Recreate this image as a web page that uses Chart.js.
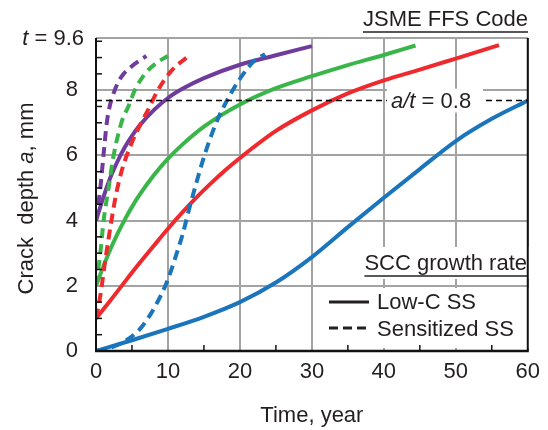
<!DOCTYPE html>
<html>
<head>
<meta charset="utf-8">
<script src="https://cdn.jsdelivr.net/npm/chart.js@4.4.1/dist/chart.umd.min.js"></script>
<style>
  html, body { margin: 0; padding: 0; background: #fff; }
  #wrap { width: 548px; height: 430px; }
</style>
</head>
<body>
<div id="wrap"><canvas id="myChart" width="548" height="430"></canvas></div>
<script>
// time (year) / crack depth (mm)
var blueSolidT = [0, 5, 10, 15, 20, 25, 30, 35, 40, 45, 50, 55, 60];
var blueSolidA = [0, 0.33, 0.68, 1.05, 1.5, 2.1, 2.88, 3.8, 4.7, 5.58, 6.44, 7.12, 7.68];
var blueDashT = [0, 2, 4, 6, 7.5, 9, 10, 11, 12, 13, 14, 15, 16, 17, 18, 19, 20, 21, 22, 23.5];
var blueDashA = [0, 0.1, 0.3, 0.65, 1.1, 1.7, 2.2, 2.85, 3.55, 4.4, 5.2, 5.95, 6.6, 7.15, 7.6, 8.0, 8.35, 8.65, 8.9, 9.1];

var redSolidT = [0, 2, 4, 6, 8, 10, 12, 14, 16, 18, 20, 25, 30, 35, 40, 45, 50, 56];
var redSolidA = [1.0, 1.55, 2.12, 2.68, 3.22, 3.75, 4.25, 4.72, 5.15, 5.55, 5.92, 6.75, 7.38, 7.9, 8.3, 8.63, 8.97, 9.38];
var redDashT = [0, 0.6, 1.3, 2.0, 2.7, 3.6, 5.0, 6.4, 7.2, 8.6, 10.5, 13.2];
var redDashA = [1.0, 1.7, 2.8, 3.8, 4.7, 5.55, 6.4, 7.05, 7.38, 8.0, 8.6, 9.1];

var greenSolidT = [0, 1, 2, 3, 4, 5, 6, 8, 10, 12, 15, 20, 25, 30, 35, 40, 44.4];
var greenSolidA = [2.0, 2.58, 3.12, 3.6, 4.03, 4.42, 4.77, 5.38, 5.9, 6.33, 6.88, 7.56, 8.06, 8.43, 8.77, 9.08, 9.37];
var greenDashT = [0, 0.6, 1.06, 1.75, 2.45, 3.6, 4.5, 5.4, 6.8, 8.5, 10];
var greenDashA = [2.0, 3.0, 4.0, 5.0, 6.0, 7.05, 7.5, 8.0, 8.5, 8.85, 9.05];

var purpleSolidT = [0, 1, 2, 3, 4, 5, 6, 8, 10, 12, 15, 20, 25, 30];
var purpleSolidA = [4.0, 4.7, 5.32, 5.82, 6.25, 6.6, 6.9, 7.38, 7.76, 8.04, 8.37, 8.78, 9.07, 9.35];
var purpleDashT = [0, 0.6, 1.06, 1.5, 1.9, 2.6, 3.5, 4.9, 7];
var purpleDashA = [4.0, 5.0, 6.05, 7.0, 7.5, 8.0, 8.4, 8.72, 9.05];

var limitT = [0, 60];
var limitA = [7.68, 7.68];   // a/t = 0.8, t = 9.6

var xTickValues = [0, 10, 20, 30, 40, 50, 60];
var yTickValues = [0, 2, 4, 6, 8, 9.6];
var xMinorTicks = [5, 15, 25, 35, 45, 55];
var yMinorTicks = [0.5, 1, 1.5, 2.5, 3, 3.5, 4.5, 5, 5.5, 6.5, 7, 7.5, 8.5, 9, 9.5];

var BLUE = '#1a75bc', RED = '#ee2a2f', GREEN = '#3ab54a', PURPLE = '#6f3c9e';
var TXT = '#231f20';
var FONT = '"Liberation Sans", Arial, sans-serif';

function pts(t, a) {
    return t.map(function (v, i) { return {x: v, y: a[i]}; });
}

function curve(t, a, color, dashed) {
    return {
        data: pts(t, a),
        borderColor: color,
        borderWidth: 4,
        borderDash: dashed ? [10, 6] : [],
        pointRadius: 0,
        cubicInterpolationMode: 'monotone',
        fill: false,
        order: 1
    };
}

var datasets = [
    {
        data: pts(limitT, limitA),
        borderColor: '#000',
        borderWidth: 1.5,
        borderDash: [6, 4],
        pointRadius: 0,
        order: 0
    },
    curve(purpleDashT, purpleDashA, PURPLE, true),
    curve(greenDashT, greenDashA, GREEN, true),
    curve(redDashT, redDashA, RED, true),
    curve(blueDashT, blueDashA, BLUE, true),
    curve(purpleSolidT, purpleSolidA, PURPLE, false),
    curve(greenSolidT, greenSolidA, GREEN, false),
    curve(redSolidT, redSolidA, RED, false),
    curve(blueSolidT, blueSolidA, BLUE, false)
];

// draw a row of text pieces, some italic
function mixed(ctx, parts, x, y, align) {
    var widths = parts.map(function (p) {
        ctx.font = (p[1] ? 'italic ' : '') + '22px ' + FONT;
        return ctx.measureText(p[0]).width;
    });
    var total = widths.reduce(function (s, w) { return s + w; }, 0);
    var cx = align === 'right' ? x - total : (align === 'center' ? x - total / 2 : x);
    var start = cx;
    ctx.textAlign = 'left';
    ctx.textBaseline = 'middle';
    parts.forEach(function (p, i) {
        ctx.font = (p[1] ? 'italic ' : '') + '22px ' + FONT;
        ctx.fillText(p[0], cx, y);
        cx += widths[i];
    });
    return [start, cx];
}

var deco = {
    id: 'deco',
    afterDatasetsDraw: function (chart) {
        var ctx = chart.ctx;
        var ys = chart.scales.y;
        ctx.save();
        // white label backgrounds
        ctx.fillStyle = '#fff';
        ctx.fillRect(387, ys.getPixelForValue(7.68) - 12, 96, 24);
        ctx.fillRect(344, 247, 186, 32);
        ctx.fillRect(318, 288, 212, 60);

        ctx.fillStyle = TXT;
        mixed(ctx, [['a/t', true], [' = 0.8', false]], 391, ys.getPixelForValue(7.68) + 1, 'left');

        // SCC growth rate + legend
        var r = mixed(ctx, [['SCC growth rate', false]], 527, 264, 'right');
        ctx.strokeStyle = TXT;
        ctx.lineWidth = 1.5;
        ctx.beginPath(); ctx.moveTo(r[0], 276); ctx.lineTo(r[1], 276); ctx.stroke();

        ctx.lineWidth = 3;
        ctx.beginPath(); ctx.moveTo(329, 302); ctx.lineTo(369, 302); ctx.stroke();
        ctx.setLineDash([9, 5]);
        ctx.beginPath(); ctx.moveTo(329, 328); ctx.lineTo(371, 328); ctx.stroke();
        ctx.setLineDash([]);
        mixed(ctx, [['Low-C SS', false]], 377, 303, 'left');
        mixed(ctx, [['Sensitized SS', false]], 377, 330, 'left');
        ctx.restore();
    },
    afterDraw: function (chart) {
        var ctx = chart.ctx, ca = chart.chartArea;
        var xs = chart.scales.x, ys = chart.scales.y;
        ctx.save();
        ctx.strokeStyle = '#111';
        // minor ticks, inside
        ctx.lineWidth = 1.5;
        yMinorTicks.forEach(function (v) {
            var py = ys.getPixelForValue(v);
            ctx.beginPath(); ctx.moveTo(ca.left, py); ctx.lineTo(ca.left + 6, py); ctx.stroke();
        });
        xMinorTicks.forEach(function (v) {
            var px = xs.getPixelForValue(v);
            ctx.beginPath(); ctx.moveTo(px, ca.bottom); ctx.lineTo(px, ca.bottom - 6); ctx.stroke();
        });
        // frame
        ctx.lineWidth = 2;
        ctx.beginPath(); ctx.moveTo(ca.left, ca.top); ctx.lineTo(ca.left, ca.bottom); ctx.stroke();
        ctx.beginPath(); ctx.moveTo(ca.right, ca.top); ctx.lineTo(ca.right, ca.bottom); ctx.stroke();
        ctx.lineWidth = 2.5;
        ctx.beginPath(); ctx.moveTo(ca.left - 1, ca.bottom); ctx.lineTo(ca.right + 1, ca.bottom); ctx.stroke();

        ctx.fillStyle = TXT;
        // t = 9.6 at the top of the y axis
        mixed(ctx, [['t', true], [' = 9.6', false]], ca.left - 12, ys.getPixelForValue(9.6) + 1, 'right');

        // JSME FFS Code
        var r = mixed(ctx, [['JSME FFS Code', false]], 528, 20, 'right');
        ctx.lineWidth = 1.5;
        ctx.strokeStyle = TXT;
        ctx.beginPath(); ctx.moveTo(r[0], 32); ctx.lineTo(r[1], 32); ctx.stroke();

        // y axis title
        ctx.translate(27, (ca.top + ca.bottom) / 2 + 4);
        ctx.rotate(-Math.PI / 2);
        mixed(ctx, [['Crack  depth ', false], ['a', true], [', mm', false]], 0, 0, 'center');
        ctx.restore();
    }
};

var ctx = document.getElementById('myChart').getContext('2d');
var chart = new Chart(ctx, {
    type: 'line',
    data: { datasets: datasets },
    options: {
        responsive: false,
        animation: false,
        layout: { padding: { top: 38, right: 18, left: 0, bottom: 0 } },
        plugins: {
            legend: { display: false },
            tooltip: { enabled: false }
        },
        scales: {
            x: {
                type: 'linear',
                min: 0,
                max: 60,
                afterBuildTicks: function (scale) {
                    scale.ticks = xTickValues.map(function (v) { return {value: v}; });
                },
                afterFit: function (scale) { scale.height = 79; },
                grid: { color: '#a3a3a3', lineWidth: 2, drawTicks: false },
                border: { display: false },
                ticks: {
                    padding: 8,
                    color: TXT,
                    font: { family: FONT, size: 22 },
                    maxRotation: 0
                },
                title: {
                    display: true,
                    text: 'Time, year',
                    color: TXT,
                    font: { family: FONT, size: 22 },
                    padding: { top: 0, bottom: 1 }
                }
            },
            y: {
                type: 'linear',
                min: 0,
                max: 9.6,
                afterBuildTicks: function (scale) {
                    scale.ticks = yTickValues.map(function (v) { return {value: v}; });
                },
                afterFit: function (scale) { scale.width = 96; },
                grid: { color: '#a3a3a3', lineWidth: 2, drawTicks: false },
                border: { display: false },
                ticks: {
                    padding: 18,
                    color: TXT,
                    font: { family: FONT, size: 22 },
                    callback: function (v) { return v % 2 === 0 ? v : ''; }
                }
            }
        }
    },
    plugins: [deco]
});
</script>
</body>
</html>
